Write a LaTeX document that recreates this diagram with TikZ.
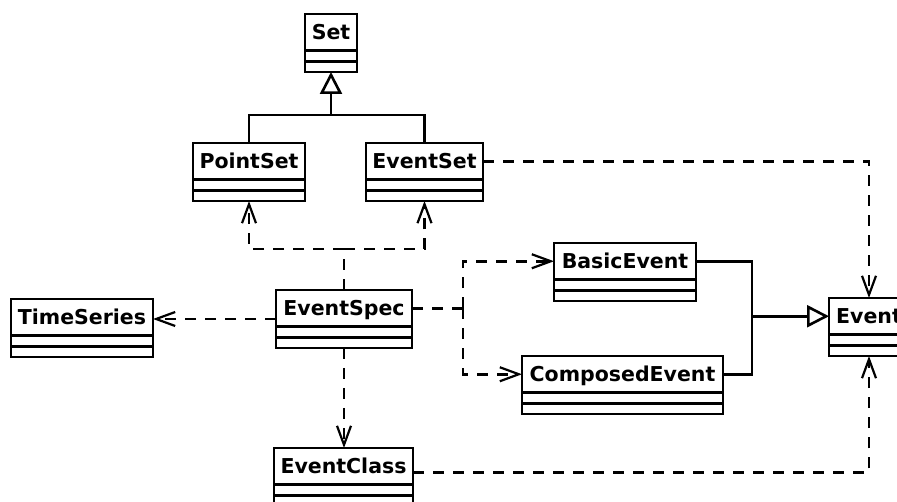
\documentclass[tikz,border=0pt]{standalone}
\usepackage{fontspec}
\setmainfont{DejaVu Sans}
\usetikzlibrary{arrows.meta}

% A UML class box: full box (#1), name compartment (#1-name), and the
% separator between attribute and operation compartments.
\newcommand\umlclass[5]{%
  \node[classbox, minimum width=#4pt, anchor=north] (#1) at (#2,#3) {};
  \node[namebox, minimum width=#4pt, anchor=north] (#1-name) at (#1.north) {#5};
  \draw[boxline] ([yshift=-47.25pt]#1.north west) -- ([yshift=-47.25pt]#1.north east);
}

\begin{document}
\begin{tikzpicture}[x=1pt, y=-1pt,
  boxline/.style={line width=2.9pt, line cap=rect},
  classbox/.style={draw, boxline, minimum height=58pt, inner sep=0pt, outer sep=0pt},
  namebox/.style={draw, boxline, minimum height=36.5pt, inner sep=0pt, outer sep=0pt,
    text height=14.5pt, text depth=0pt,
    font=\fontsize{20.5}{24}\selectfont\bfseries},
  link/.style={line width=2.8pt},
  dep/.style={link, dash pattern=on 11pt off 9pt,
    -{Straight Barb[length=19pt, width=14pt, line width=2.2pt]}},
  depline/.style={link, dash pattern=on 11pt off 9pt},
  gen/.style={link, -{Triangle[open, length=22pt, width=22pt, line width=2.6pt]}},
]
\useasboundingbox (0,0) rectangle (897,502);
\clip (0,0) rectangle (897,502);

% classes
\umlclass{set}{331}{14}{52}{Set}
\umlclass{pointset}{249}{143}{112}{PointSet}
\umlclass{eventset}{424.5}{143}{117}{EventSet}
\umlclass{timeseries}{82}{299}{142}{TimeSeries}
\umlclass{eventspec}{344}{290}{136}{EventSpec}
\umlclass{eventclass}{343.5}{448}{139}{EventClass}
\umlclass{basicevent}{625}{243}{142}{BasicEvent}
\umlclass{composedevent}{622.5}{356}{201}{ComposedEvent}
\umlclass{event}{869}{298}{80}{Event}

% generalization: PointSet, EventSet -> Set
\coordinate (setjoin) at (set.south |- 0,115);
\draw[link] (pointset.north) |- (eventset.north |- setjoin) -- (eventset.north);
\draw[gen] (setjoin) -- (set.south);

% generalization: BasicEvent, ComposedEvent -> Event
\coordinate (eventjoin) at (752,0 |- event-name.west);
\draw[link] (basicevent-name.east) -| (eventjoin);
\draw[link] (composedevent-name.east) -| (eventjoin);
\draw[gen] (eventjoin) -- (event-name.west);

% dependencies of EventSpec
\coordinate (setfork) at (eventspec.north |- 0,249);
\draw[depline] (eventspec.north) -- (setfork);
\draw[dep] (setfork) -| (pointset.south);
\draw[dep] (setfork) -| (eventset.south);
\draw[dep] (eventspec.west) -- (eventspec.west -| timeseries.east);
\draw[dep] (eventspec.south) -- (eventspec.south |- eventclass.north);

\coordinate (eventfork) at (eventspec-name.east -| 463,0);
\draw[depline] (eventspec-name.east) -- (eventfork);
\draw[dep] (eventfork) |- (basicevent-name.west);
\draw[dep] (eventfork) |- (composedevent-name.west);

% dependencies on Event
\draw[dep] (eventset-name.east) -| (event.north);
\draw[dep] ([yshift=-6pt]eventclass-name.east) -| (event.south);
\end{tikzpicture}
\end{document}
